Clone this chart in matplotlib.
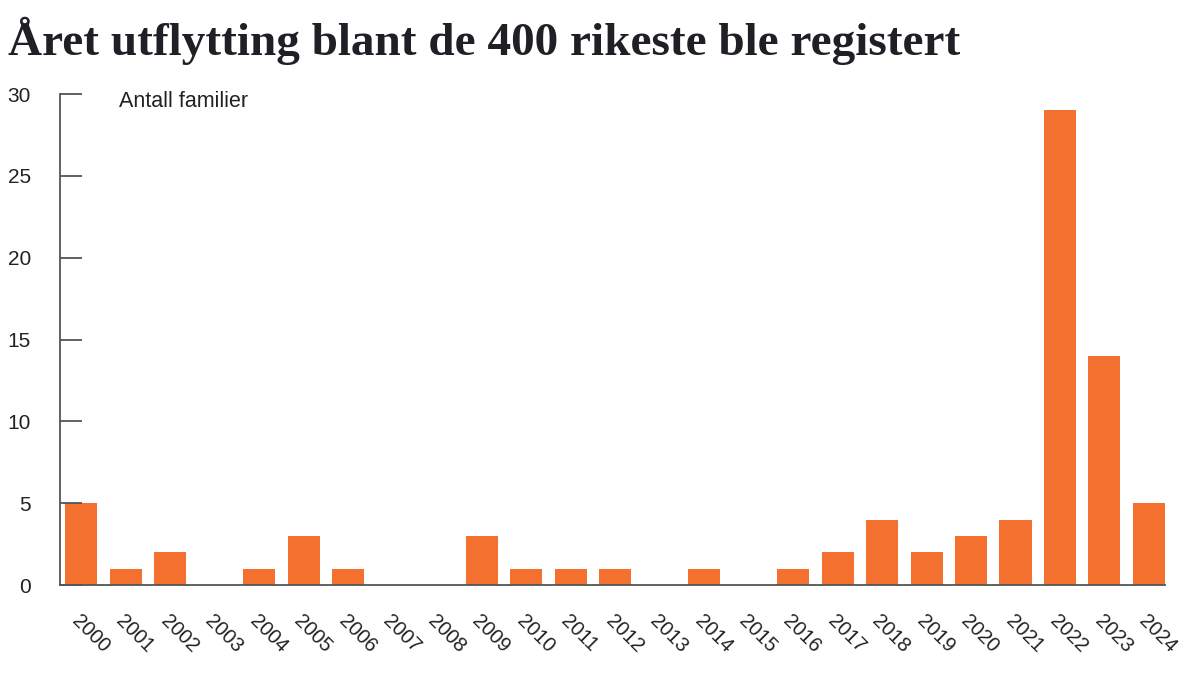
import numpy as np
import matplotlib
matplotlib.use("Agg")
import matplotlib.pyplot as plt

years = [str(y) for y in range(2000, 2025)]
families = [5, 1, 2, 0, 1, 3, 1, 0, 0, 3, 1, 1, 1, 0, 1, 0, 1, 2, 4, 2, 3, 4, 29, 14, 5]
yticks = [0, 5, 10, 15, 20, 25, 30]

title = "Året utflytting blant de 400 rikeste ble registert"
unit_label = "Antall familier"

bar_color = "#F4702F"
text_color = "#222222"
axis_color = "#555555"

plt.rcParams['font.family'] = ['Liberation Sans', 'DejaVu Sans']

fig = plt.figure(figsize=(12, 6.75), dpi=100)
ax = fig.add_axes([0.05, 0.1333, 0.9208, 0.7274])

x = np.arange(len(years))
ax.bar(x, families, width=0.72, color=bar_color)

ax.set_xlim(-0.48, 24.36)
ax.set_ylim(0, 30)
ax.set_yticks(yticks)
ax.set_yticklabels([str(t) for t in yticks], fontsize=15, color=text_color)
ax.tick_params(axis='y', direction='in', length=16, width=1.3, color=axis_color, pad=21)

ax.set_xticks(x)
ax.set_xticklabels(years, rotation=-45, ha='left', va='top', rotation_mode='anchor',
                   fontsize=14.5, color=text_color)
ax.tick_params(axis='x', length=0, pad=19)

for side in ['top', 'right']:
    ax.spines[side].set_visible(False)
ax.spines['left'].set_color(axis_color)
ax.spines['bottom'].set_color(axis_color)
ax.spines['left'].set_linewidth(1.3)
ax.spines['bottom'].set_linewidth(1.3)

ax.text(0.0534, 0.985, unit_label, transform=ax.transAxes, fontsize=15.5,
        color=text_color, ha='left', va='center')

fig.text(0.007, 0.918, title, fontsize=34, fontweight='bold', color='#1f1f26',
         family=['Liberation Serif', 'DejaVu Serif'], ha='left', va='baseline')

fig.savefig("out.png", dpi=100)
